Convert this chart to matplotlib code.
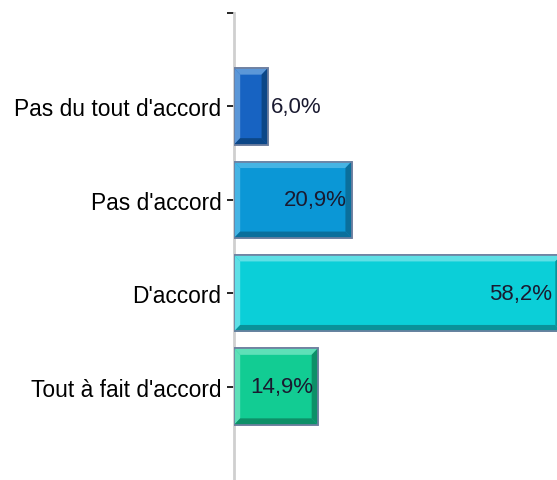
import numpy as np
import matplotlib.pyplot as plt
from matplotlib.patches import Polygon

plt.rcParams['font.family'] = ['Liberation Sans', 'DejaVu Sans']

categories = ["Pas du tout d'accord", "Pas d'accord", "D'accord", "Tout à fait d'accord"]
values = [6.0, 20.9, 58.2, 14.9]
labels = ['6,0%', '20,9%', '58,2%', '14,9%']
faces = ['#1763c2', '#0b97d6', '#0bcfd8', '#12cc93']
lights = ['#5b97d8', '#45b4e4', '#5fe0e6', '#5ee0b8']
darks = ['#0c4787', '#0a6f9c', '#0a9299', '#0d9068']

fig = plt.figure(figsize=(5.57, 4.81), dpi=100)
ax = fig.add_axes([234 / 557, 0, 1 - 234 / 557, 1 - 14 / 481])

xmax = 57.4
h = 0.82
y = np.arange(len(categories))
fs = 16
ax.barh(y, values, height=h, color=faces, edgecolor='#6f80a0', linewidth=1.2, zorder=3)

# biseau (effet 3D)
bx = 1.1   # épaisseur en %
by = 0.07  # épaisseur en unités catégorie
for i, v in enumerate(values):
    top, bot = i - h / 2, i + h / 2
    ax.add_patch(Polygon([(0, top), (v, top), (v - bx, top + by), (bx, top + by)],
                         closed=True, color=lights[i], zorder=4, lw=0))
    ax.add_patch(Polygon([(0, top), (bx, top + by), (bx, bot - by), (0, bot)],
                         closed=True, color=lights[i], zorder=4, lw=0))
    ax.add_patch(Polygon([(0, bot), (bx, bot - by), (v - bx, bot - by), (v, bot)],
                         closed=True, color=darks[i], zorder=4, lw=0))
    ax.add_patch(Polygon([(v, top), (v, bot), (v - bx, bot - by), (v - bx, top + by)],
                         closed=True, color=darks[i], zorder=4, lw=0))
    ax.add_patch(plt.Rectangle((0, top), v, h, fill=False, ec='#6f80a0', lw=1.2, zorder=5))
    # étiquettes de valeur
    if v < 10:
        ax.text(v + 0.5, i, labels[i], ha='left', va='center', fontsize=fs, color='#1a1a30', zorder=6)
    else:
        ax.text(min(v, xmax) - 0.8, i, labels[i], ha='right', va='center', fontsize=fs,
                color='#1a1a30', zorder=6)

ax.set_xlim(0, xmax)
ax.set_ylim(4.0, -1.0)
ax.set_yticks([-1] + list(y))
ax.set_yticklabels([''] + categories, fontsize=16.4)
ax.tick_params(axis='y', length=5, width=1.2, color='black', pad=4)
ax.set_xticks([])
for s in ['top', 'right', 'bottom']:
    ax.spines[s].set_visible(False)
ax.spines['left'].set_color('#cfcfcf')
ax.spines['left'].set_linewidth(2)

plt.savefig('out.png', dpi=100)
